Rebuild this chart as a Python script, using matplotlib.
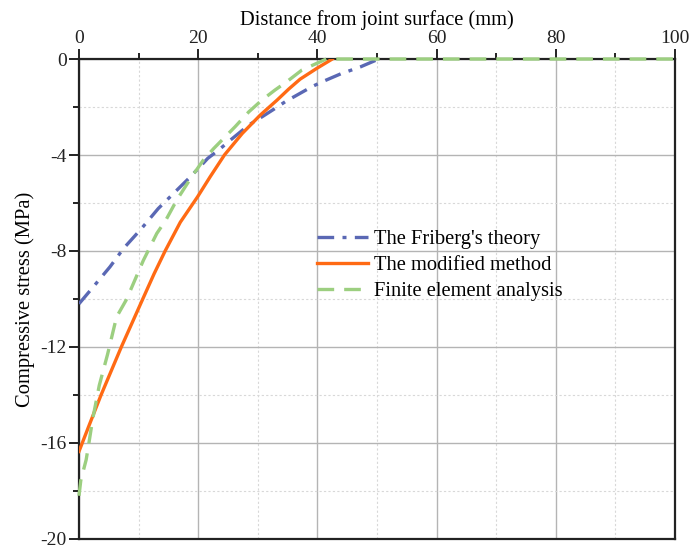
import matplotlib
matplotlib.use("Agg")
import matplotlib.pyplot as plt
from matplotlib.ticker import MultipleLocator

plt.rcParams["font.family"] = ["Liberation Serif", "DejaVu Serif"]
plt.rcParams["axes.unicode_minus"] = False

# Friberg's theory
friberg_x = [0, 1.7, 5.2, 7.45, 10.5, 13.3, 15.3, 18.4, 20.3, 21.6, 23.4, 25.4,
             28.5, 30.7, 32.9, 34.6, 37.1, 39.1, 40.8, 43.9, 47.2, 50.3]
friberg_y = [-10.2, -9.7, -8.66, -7.9, -7.06, -6.23, -5.74, -4.98, -4.49, -4.14,
             -3.8, -3.38, -2.75, -2.41, -2.06, -1.78, -1.43, -1.15, -0.95, -0.62,
             -0.33, 0]

# modified method
modified_x = [0, 1.8, 3.7, 5.4, 7.1, 8.9, 10.7, 12.6, 14.45, 17.0, 19.9, 22.0,
              24.4, 27.4, 30.4, 33.2, 35.2, 37.1, 39.9, 42.5]
modified_y = [-16.35, -15.2, -14.0, -13.0, -12.0, -11.0, -10.0, -8.95, -8.0, -6.8,
              -5.74, -4.91, -4.0, -3.1, -2.34, -1.72, -1.25, -0.84, -0.39, 0]

# finite element analysis
fea_x = [0, 0.3, 1.2, 1.6, 2.3, 3.4, 4.8, 6.3, 7.9, 8.7, 10.8, 13.05, 14.6, 16.4,
         18.9, 20.9, 22.6, 26.2, 28.5, 30.7, 32.9, 34.9, 37.4, 39.9, 41.5, 100]
fea_y = [-18.2, -17.56, -16.7, -16.1, -15.0, -13.6, -12.3, -10.75, -10.05, -9.6,
         -8.39, -7.27, -6.7, -5.88, -4.91, -4.2, -3.73, -2.82, -2.2, -1.71, -1.29,
         -0.94, -0.46, -0.18, 0, 0]

fig = plt.figure(figsize=(6.93, 5.52), dpi=100)
ax = fig.add_axes([0.114, 0.0236, 0.860, 0.8695])

ax.plot(friberg_x, friberg_y, color="#5a68b4", lw=2.4, ls=(0, (5, 2.5, 1.2, 2.5)),
        label="The Friberg's theory", zorder=3)
ax.plot(modified_x, modified_y, color="#ff6a14", lw=2.4, ls="-",
        label="The modified method", zorder=4)
ax.plot(fea_x, fea_y, color="#9ccf80", lw=2.4, ls=(0, (5, 3)),
        label="Finite element analysis", zorder=5, clip_on=False)

ax.set_xlim(0, 100)
ax.set_ylim(-20, 0)
ax.xaxis.set_major_locator(MultipleLocator(20))
ax.xaxis.set_minor_locator(MultipleLocator(10))
ax.yaxis.set_major_locator(MultipleLocator(4))
ax.yaxis.set_minor_locator(MultipleLocator(2))

ax.xaxis.tick_top()
ax.xaxis.set_label_position("top")
ax.tick_params(axis="both", which="major", direction="out", length=7, width=1.4,
               labelsize=14, colors="#222222")
ax.tick_params(axis="both", which="minor", direction="out", length=4.5, width=1.4,
               colors="#222222")
ax.tick_params(axis="x", which="both", top=True, bottom=False, pad=2)
ax.tick_params(axis="y", which="both", left=True, right=False, pad=2)

ax.grid(which="major", color="#b4b4b4", lw=1.0, ls="-")
ax.grid(which="minor", color="#d8d8d8", lw=0.8, ls=(0, (2, 2)))
ax.set_axisbelow(True)

for sp in ax.spines.values():
    sp.set_linewidth(1.6)
    sp.set_color("#222222")

ax.set_xlabel("Distance from joint surface (mm)", fontsize=14.8, labelpad=3)
ax.set_ylabel("Compressive stress (MPa)", fontsize=14.8, labelpad=4)

ax.legend(loc="upper left", bbox_to_anchor=(0.385, 0.662), frameon=False,
          fontsize=14.8, handlelength=2.5, handletextpad=0.3, labelspacing=0.32,
          borderaxespad=0)

fig.savefig("out.png", dpi=100)
